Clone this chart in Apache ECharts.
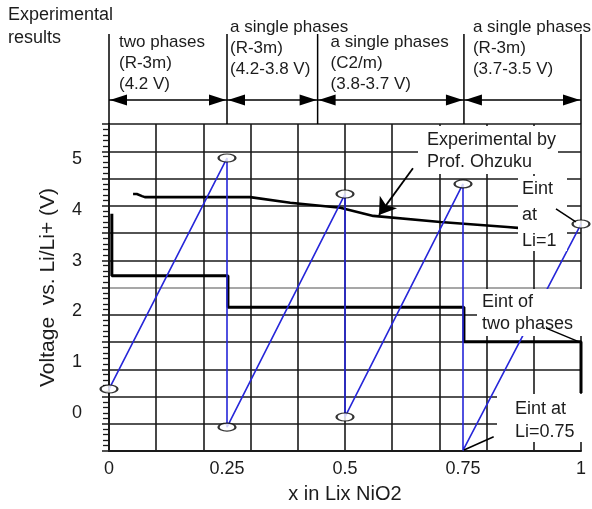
<!DOCTYPE html>
<html>
<head>
<meta charset="utf-8">
<script src="https://cdn.jsdelivr.net/npm/echarts@6/dist/echarts.min.js"></script>
<style>
  html, body { margin: 0; padding: 0; background: #fff; }
  #chart { width: 592px; height: 509px; }
</style>
</head>
<body>
<div id="chart"></div>
<script>
// data (x in LixNiO2, voltage in V)
const yLabelValues = [0, 1, 2, 3, 4, 5]
const sawtooth = [[0, 0.47], [0.25, 5.02], [0.25, -0.28], [0.5, 4.31], [0.5, -0.08], [0.75, 4.51], [0.75, -0.74], [1, 3.72]]
const ellipses = [[0, 0.47], [0.25, 5.02], [0.25, -0.28], [0.5, 4.31], [0.5, -0.08], [0.75, 4.51], [1, 3.72]]
const eintSteps = [[0.006, 3.92], [0.006, 2.7], [0.252, 2.7], [0.252, 2.08], [0.752, 2.08], [0.752, 1.4], [1, 1.4], [1, 0.39]]
const ohzuku = [[0.051, 4.31], [0.059, 4.31], [0.07, 4.27], [0.076, 4.25], [0.299, 4.25], [0.384, 4.14], [0.49, 4.04], [0.56, 3.88], [0.702, 3.76], [0.844, 3.66], [0.872, 3.64]]
// leader lines of the notes
const arrowOhzuku = [[0.644, 4.82], [0.572, 3.9]]
const leaderLi1 = [[0.947, 4.02], [0.989, 3.76]]
const leaderTwoPhases = [[0.926, 1.67], [0.996, 1.4]]
const leaderLi075 = [[0.815, -0.47], [0.752, -0.73]]
// phase boundaries and texts in the header
const phaseBounds = [0, 0.25, 0.442, 0.752, 1]
const phaseTexts = [
  ['two phases', '(R-3m)', '(4.2 V)'],
  ['a single phases', '(R-3m)', '(4.2-3.8 V)'],
  ['a single phases', '(C2/m)', '(3.8-3.7 V)'],
  ['a single phases', '(R-3m)', '(3.7-3.5 V)']
]

const FONT = '"Liberation Sans", Arial, Helvetica, sans-serif'
const INK = '#1c1c1c'
const GRID = '#1a1a1a'

// split line colours, the middle one is the seam between the two panels
const gridColors = []
for (let i = 0; i <= 12; i++) gridColors.push(i === 6 ? '#8a8a8a' : GRID)

const chart = echarts.init(document.getElementById('chart'))

const option = {
  animation: false,
  backgroundColor: '#fff',
  textStyle: { fontFamily: FONT },
  grid: { left: 109, right: 11, top: 124, bottom: 58, outerBoundsMode: 'none' },
  xAxis: [
    {
      type: 'value', min: 0, max: 1, interval: 0.25,
      axisLine: { show: false }, axisTick: { show: false }, splitLine: { show: false },
      axisLabel: { fontSize: 18, color: INK, margin: 9, fontFamily: FONT },
      name: 'x in Lix NiO2', nameLocation: 'middle', nameGap: 33,
      nameTextStyle: { fontSize: 20, color: INK, fontFamily: FONT }
    },
    {
      type: 'value', min: 0, max: 1, interval: 0.1, position: 'bottom',
      axisLine: { show: true, lineStyle: { color: GRID, width: 2 } },
      axisTick: { show: false }, axisLabel: { show: false },
      splitLine: { show: true, lineStyle: { color: GRID, width: 1.6 } }
    }
  ],
  yAxis: [
    {
      type: 'value', min: -0.75, max: 5.69,
      axisLine: { show: false }, axisTick: { show: false }, splitLine: { show: false },
      axisLabel: { fontSize: 18, color: INK, margin: 27, fontFamily: FONT, customValues: yLabelValues },
      name: 'Voltage  vs. Li/Li+ (V)', nameLocation: 'middle', nameGap: 50, nameRotate: 90,
      nameTextStyle: { fontSize: 21, color: INK, fontFamily: FONT }
    },
    {
      type: 'value', min: 0, max: 12, interval: 1, position: 'left',
      axisLine: { show: true, lineStyle: { color: GRID, width: 2 } },
      axisTick: { show: true, length: 7, lineStyle: { color: GRID, width: 1.5 } },
      minorTick: { show: true, splitNumber: 5, length: 6, lineStyle: { color: GRID, width: 1.3 } },
      axisLabel: { show: false },
      splitLine: { show: true, lineStyle: { color: gridColors, width: 1.6 } }
    }
  ],
  series: [
    {
      name: 'Experimental by Prof. Ohzuku', type: 'line', data: ohzuku,
      showSymbol: false, clip: false, z: 3,
      lineStyle: { color: '#000', width: 2.6 }
    },
    {
      name: 'Eint of two phases', type: 'line', data: eintSteps,
      showSymbol: false, clip: false, z: 3,
      lineStyle: { color: '#000', width: 3 }
    },
    {
      name: 'Eint', type: 'line', data: sawtooth,
      showSymbol: false, clip: false, z: 4,
      lineStyle: { color: '#2626d9', width: 1.6 }
    },
    {
      name: 'Eint points', type: 'scatter', data: ellipses,
      symbol: 'circle', symbolSize: [17, 8], clip: false, z: 5,
      itemStyle: { color: '#fff', borderColor: '#000', borderWidth: 1.6 }
    },
    {
      name: 'notes', type: 'lines', coordinateSystem: 'cartesian2d', z: 40,
      symbol: ['none', 'none'],
      lineStyle: { color: '#000', width: 1.5, opacity: 1, curveness: 0 },
      data: [
        { coords: leaderLi1 },
        { coords: leaderTwoPhases },
        { coords: leaderLi075 }
      ]
    },
    {
      name: 'arrow', type: 'lines', coordinateSystem: 'cartesian2d', z: 40,
      symbol: ['none', 'arrow'], symbolSize: 16,
      lineStyle: { color: '#000', width: 1.8, opacity: 1, curveness: 0 },
      data: [{ coords: arrowOhzuku }]
    }
  ]
}
chart.setOption(option)

// header and the note boxes
const px = v => chart.convertToPixel({ xAxisIndex: 0 }, v)
const topY = 124
const arrowY = 100
const headerOffsets = [[10, 42], [3, 27], [13, 42], [9, 27]]
const g = []

function text(str, x, y, size) {
  g.push({
    type: 'text', z: 30,
    style: { text: str, x: x, y: y, font: size + 'px ' + FONT, fill: INK, verticalAlign: 'middle' }
  })
}
function box(x, y, w, h) {
  g.push({ type: 'rect', z: 25, shape: { x: x, y: y, width: w, height: h }, style: { fill: '#fff' } })
}

text('Experimental', 8, 15, 18)
text('results', 8, 38, 18)

const bx = phaseBounds.map(px)
bx.forEach(x => {
  g.push({ type: 'line', z: 30, shape: { x1: x, y1: 34, x2: x, y2: topY }, style: { stroke: '#000', lineWidth: 1.5 } })
})
for (let i = 0; i < bx.length - 1; i++) {
  const a = bx[i], b = bx[i + 1]
  g.push({ type: 'line', z: 30, shape: { x1: a, y1: arrowY, x2: b, y2: arrowY }, style: { stroke: '#000', lineWidth: 1.5 } })
  g.push({ type: 'polygon', z: 30, shape: { points: [[a + 1, arrowY], [a + 18, arrowY - 5.5], [a + 18, arrowY + 5.5]] }, style: { fill: '#000' } })
  g.push({ type: 'polygon', z: 30, shape: { points: [[b - 1, arrowY], [b - 18, arrowY - 5.5], [b - 18, arrowY + 5.5]] }, style: { fill: '#000' } })
  const [dx, y0] = headerOffsets[i]
  phaseTexts[i].forEach((t, k) => text(t, a + dx, y0 + k * 21, 17))
}

box(418, 126, 140, 48)
text('Experimental by', 427, 140, 18)
text('Prof. Ohzuku', 427, 162, 18)

box(518, 176, 49, 75)
text('Eint', 522, 189, 18)
text('at', 522, 215, 18)
text('Li=1', 522, 241, 18)

box(477, 289, 105, 47)
text('Eint of', 482, 302, 18)
text('two phases', 482, 324, 18)

box(497, 394, 85, 48)
text('Eint at', 515, 409, 18)
text('Li=0.75', 515, 432, 18)

chart.setOption({ graphic: g })
</script>
</body>
</html>
